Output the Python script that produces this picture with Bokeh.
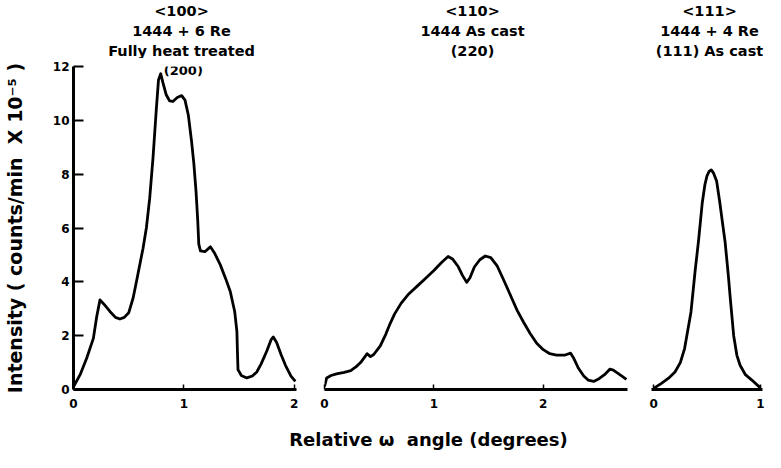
from bokeh.plotting import figure
from bokeh.layouts import row, column
from bokeh.models import Range1d, Label, FixedTicker
from bokeh.embed import file_html
from bokeh.resources import INLINE

FONT = "DejaVu Sans"

# ---- data ----
p100_x = [0.00, 0.06, 0.12, 0.18, 0.21, 0.24, 0.28, 0.33, 0.38, 0.42, 0.46, 0.50, 0.54, 0.57,
          0.63, 0.66, 0.69, 0.72, 0.75, 0.77, 0.79, 0.81, 0.84, 0.87, 0.90, 0.94, 0.98, 1.01,
          1.04, 1.07, 1.09, 1.11, 1.125, 1.135, 1.15, 1.19, 1.24, 1.28, 1.33, 1.38, 1.42, 1.46,
          1.48, 1.485, 1.49, 1.52, 1.57, 1.62, 1.66, 1.70, 1.75, 1.79, 1.81, 1.84, 1.88, 1.92,
          1.97, 2.01]
p100_y = [0.10, 0.55, 1.17, 1.90, 2.70, 3.33, 3.15, 2.90, 2.68, 2.62, 2.68, 2.85, 3.40, 4.00,
          5.25, 6.00, 7.10, 8.60, 10.40, 11.50, 11.73, 11.40, 10.95, 10.72, 10.70, 10.85, 10.92, 10.75,
          10.20, 9.20, 8.40, 7.35, 6.30, 5.40, 5.15, 5.12, 5.30, 5.05, 4.63, 4.10, 3.64, 2.90,
          2.16, 1.40, 0.74, 0.52, 0.43, 0.50, 0.65, 0.95, 1.42, 1.85, 1.95, 1.75, 1.30, 0.90,
          0.50, 0.30]

p110_x = [0.00, 0.02, 0.06, 0.11, 0.18, 0.24, 0.29, 0.33, 0.37, 0.39, 0.42, 0.45, 0.51, 0.56,
          0.60, 0.64, 0.70, 0.77, 0.85, 0.93, 1.00, 1.07, 1.13, 1.17, 1.22, 1.26, 1.30, 1.33,
          1.37, 1.42, 1.47, 1.52, 1.58, 1.64, 1.70, 1.76, 1.82, 1.88, 1.94, 2.00, 2.06, 2.12,
          2.20, 2.25, 2.28, 2.32, 2.37, 2.41, 2.46, 2.51, 2.56, 2.61, 2.64, 2.69, 2.76]
p110_y = [0.12, 0.43, 0.52, 0.58, 0.64, 0.70, 0.85, 1.00, 1.22, 1.33, 1.22, 1.30, 1.62, 2.05,
          2.45, 2.80, 3.20, 3.55, 3.85, 4.15, 4.42, 4.72, 4.94, 4.85, 4.58, 4.25, 3.98, 4.15,
          4.55, 4.82, 4.96, 4.90, 4.58, 4.05, 3.50, 2.95, 2.50, 2.08, 1.72, 1.48, 1.33, 1.28,
          1.28, 1.35, 1.15, 0.80, 0.50, 0.35, 0.30, 0.40, 0.55, 0.76, 0.72, 0.58, 0.38]

p111_x = [0.00, 0.07, 0.14, 0.20, 0.25, 0.29, 0.32, 0.35, 0.39, 0.42, 0.44, 0.456, 0.48, 0.50,
          0.52, 0.54, 0.56, 0.59, 0.62, 0.645, 0.67, 0.70, 0.72, 0.75, 0.78, 0.81, 0.86, 0.92, 1.00]
p111_y = [0.04, 0.22, 0.42, 0.65, 1.00, 1.52, 2.20, 2.88, 4.45, 5.50, 6.30, 6.95, 7.60, 7.94,
          8.10, 8.16, 8.05, 7.75, 6.95, 6.20, 5.47, 4.23, 3.30, 2.00, 1.27, 0.90, 0.55, 0.35, 0.06]

y_ticks = [0, 2, 4, 6, 8, 10, 12]
x_ticks_100 = [0, 1, 2]
x_ticks_110 = [0, 1, 2]
x_ticks_111 = [0, 1]

titles_100 = ["<100>", "1444 + 6 Re", "Fully heat treated"]
peak_100 = "(200)"
titles_110 = ["<110>", "1444 As cast", "(220)"]
titles_111 = ["<111>", "1444 + 4 Re", "(111) As cast"]

y_label = "Intensity ( counts/min\u00a0\u00a0X 10\u207b\u2075 )"
x_label = "Relative \u03c9\u00a0 angle (degrees)"

W = 765
TOP_STRIP = 58
BOTTOM_STRIP = 26
PANEL_H = 452 - TOP_STRIP - BOTTOM_STRIP


def strip(height):
    s = figure(width=W, height=height, x_range=Range1d(0, W), y_range=Range1d(0, height),
               output_backend="svg", toolbar_location=None,
               x_axis_location=None, y_axis_location=None, min_border=0)
    s.grid.visible = False
    s.outline_line_color = None
    return s


def make_panel(xr, frame_w, mbl, mbr, xticks, show_y):
    p = figure(width=mbl + frame_w + mbr, height=PANEL_H,
               x_range=Range1d(*xr), y_range=Range1d(0, 12),
               output_backend="svg", toolbar_location=None,
               min_border_left=mbl, min_border_right=mbr,
               min_border_top=8, min_border_bottom=37,
               y_axis_location="left" if show_y else None)
    p.grid.visible = False
    p.outline_line_color = None
    ax = p.xaxis[0]
    ax.ticker = FixedTicker(ticks=xticks)
    ax.axis_line_width = 3
    ax.axis_line_color = "black"
    ax.major_tick_in = 5
    ax.major_tick_out = 0
    ax.major_tick_line_width = 1.5
    ax.minor_tick_line_color = None
    ax.major_label_standoff = 9
    ax.major_label_text_font = FONT
    ax.major_label_text_font_style = "bold"
    ax.major_label_text_font_size = "12px"
    ax.major_label_text_color = "black"
    if show_y:
        ay = p.yaxis[0]
        ay.ticker = FixedTicker(ticks=y_ticks)
        ay.axis_line_width = 3
        ay.axis_line_color = "black"
        ay.major_tick_in = 10
        ay.major_tick_out = 0
        ay.major_tick_line_width = 2
        ay.minor_tick_line_color = None
        ay.major_label_standoff = 4
        ay.major_label_text_font = FONT
        ay.major_label_text_font_style = "bold"
        ay.major_label_text_font_size = "12px"
        ay.major_label_text_color = "black"
        ay.axis_label = y_label
        ay.axis_label_text_font = FONT
        ay.axis_label_text_font_style = "bold"
        ay.axis_label_text_font_size = "19px"
        ay.axis_label_text_color = "black"
        ay.axis_label_standoff = 24
    return p


def txt(fig, x, y, t, size):
    fig.add_layout(Label(x=x, y=y, text=t, text_align="center", text_baseline="middle",
                         text_font=FONT, text_font_style="bold", text_font_size=size,
                         text_color="black"))


# top strip: panel headings
top = strip(TOP_STRIP)
for xc, lines in ((181, titles_100), (472, titles_110), (709, titles_111)):
    for t, yv in zip(lines, (48, 28, 8)):
        txt(top, xc, yv, t, "14.5px")

p1 = make_panel((0, 2.02), 224, 72, 10, x_ticks_100, True)
p1.line(p100_x, p100_y, line_width=2.8, line_color="black", line_join="round")
txt(p1, 0.995, 11.85, peak_100, "13px")

p2 = make_panel((0, 2.77), 303, 18, 10, x_ticks_110, False)
p2.line(p110_x, p110_y, line_width=2.8, line_color="black", line_join="round")

p3 = make_panel((-0.02, 1.02), 111, 14, 3, x_ticks_111, False)
p3.line(p111_x, p111_y, line_width=2.8, line_color="black", line_join="round")

# bottom strip: shared x-axis title
bottom = strip(BOTTOM_STRIP)
txt(bottom, 428, 13, x_label, "18px")

layout = column(top, row(p1, p2, p3), bottom)
open("out.html", "w").write(file_html(layout, INLINE))
